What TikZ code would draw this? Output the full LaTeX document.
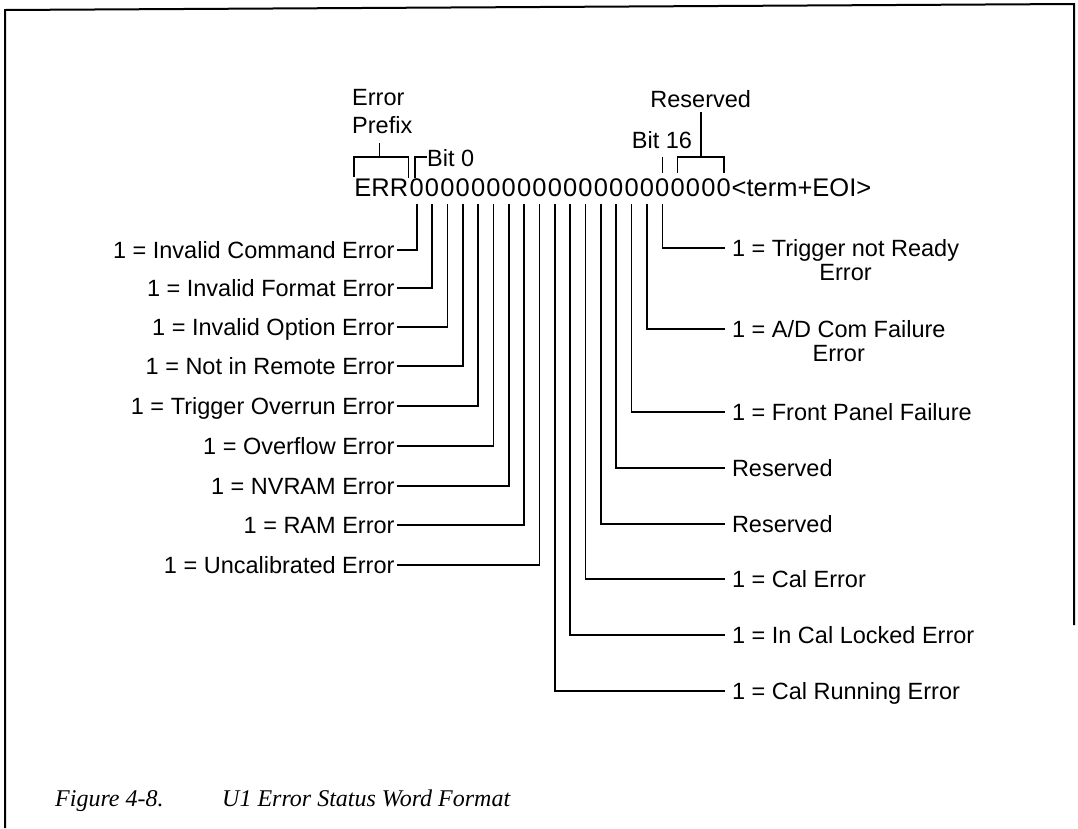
\documentclass[tikz,border=0pt]{standalone}
\usepackage{fontspec}
\newfontfamily\lblfont{Liberation Sans}
\newfontfamily\capfont{Liberation Serif}
\begin{document}
\begin{tikzpicture}[x=1pt,y=-1pt,
  lbl/.style={font=\lblfont\fontsize{23.5}{28}\selectfont, inner sep=0pt, text height=16.8pt, text depth=0pt},
  leftlbl/.style={lbl, anchor=east, outer xsep=2.5pt},
  rightlbl/.style={lbl, anchor=west, outer xsep=7pt},
  toplbl/.style={lbl, anchor=base},
  digit/.style={font=\lblfont\fontsize{25.5}{30}\selectfont, inner sep=0pt, text height=18.3pt, text depth=8pt, anchor=base},
  conn/.style={line width=1.6pt},
  frame/.style={line width=2pt},
  captxt/.style={font=\capfont\itshape\fontsize{24}{28}\selectfont, inner sep=0pt, anchor=base west}]
\useasboundingbox (0,0) rectangle (1078,828);
% frame
\draw[frame] (5,828) -- (5,10) -- (1074,4) -- (1074,625);
% bit string
\foreach \i in {0,...,20}
  \node[digit] (b\i) at ({416.7+15.35*\i},196) {0};
\node[digit, anchor=base east] (err) at ([xshift=-1pt]b0.base west) {ERR};
\node[digit, anchor=base west] (term) at ([xshift=0.5pt]b20.base east) {<term+EOI>};
\coordinate (hb) at (0,157);
% top annotations
\node[lbl, anchor=base west] (ep1) at (352,105) {Error};
\node[lbl, anchor=base west] (ep2) at (352,133) {Prefix};
\draw[conn] ([yshift=1pt]err.north west) -- (err.north west |- hb) -- (err.north east |- hb) -- (err.north east);
\draw[conn] (379.5,157) -- (379.5,143);
\node[lbl, anchor=base west] (bit0) at (427,166) {Bit 0};
\draw[conn] ([xshift=-1.7pt]b0.north) -- ([xshift=-1.7pt]b0.north |- hb) -- (bit0.west |- hb);
\node[toplbl] (bit16) at (662,148) {Bit 16};
\draw[conn] (b16.north |- hb) -- ([yshift=5pt]b16.north);
\node[toplbl] (res) at (700.7,107) {Reserved};
\draw[conn] ([yshift=5pt]b17.north) -- (b17.north |- hb) -- (b20.north |- hb) -- ([yshift=5pt]b20.north);
\draw[conn] (700.7,157) -- (700.7,112);
% left labels
\node[leftlbl] (l0) at (397,250) {1 = Invalid Command Error};
\node[leftlbl] (l1) at (397,288) {1 = Invalid Format Error};
\node[leftlbl] (l2) at (397,327) {1 = Invalid Option Error};
\node[leftlbl] (l3) at (397,366) {1 = Not in Remote Error};
\node[leftlbl] (l4) at (397,406) {1 = Trigger Overrun Error};
\node[leftlbl] (l5) at (397,446) {1 = Overflow Error};
\node[leftlbl] (l6) at (397,486) {1 = NVRAM Error};
\node[leftlbl] (l7) at (397,525) {1 = RAM Error};
\node[leftlbl] (l8) at (397,565) {1 = Uncalibrated Error};
\foreach \i in {0,...,8}
  \draw[conn] (b\i.south) |- (l\i.east);
% right labels
\node[rightlbl] (r16) at (725,248) {1 = Trigger not Ready};
\node[lbl, anchor=base] (r16e) at ([yshift=-24pt]r16.base) {Error};
\node[rightlbl] (r15) at (725,329) {1 = A/D Com Failure};
\node[lbl, anchor=base] (r15e) at ([yshift=-24pt]r15.base) {Error};
\node[rightlbl] (r14) at (725,412) {1 = Front Panel Failure};
\node[rightlbl] (r13) at (725,468) {Reserved};
\node[rightlbl] (r12) at (725,524) {Reserved};
\node[rightlbl] (r11) at (725,579) {1 = Cal Error};
\node[rightlbl] (r10) at (725,635) {1 = In Cal Locked Error};
\node[rightlbl] (r9) at (725,691) {1 = Cal Running Error};
\foreach \i in {9,...,16}
  \draw[conn] (b\i.south) |- (r\i.west);
% caption
\node[captxt] (cap1) at (55,806) {Figure 4-8.};
\node[captxt] (cap2) at (222,806) {U1 Error Status Word Format};
\end{tikzpicture}
\end{document}
